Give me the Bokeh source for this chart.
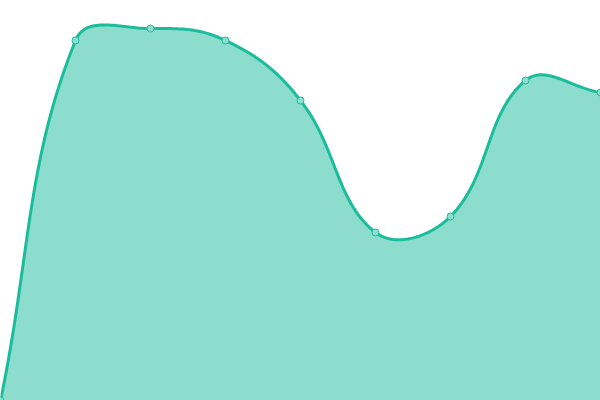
import numpy as np
from bokeh.plotting import figure
from bokeh.embed import file_html
from bokeh.resources import INLINE

# data
labels = ["P0", "P1", "P2", "P3", "P4", "P5", "P6", "P7", "P8"]
values = [0, 90, 93, 90, 75, 42, 46, 80, 77]

W, H = 600, 400
Y_MAX = 100
TENSION = 0.4

xs = np.arange(len(values), dtype=float)
ys = np.array(values, dtype=float)

# pixel-space points for control point computation (Chart.js style spline)
sx = W / (len(values) - 1)
sy = H / Y_MAX
P = np.column_stack([xs * sx, ys * sy])

n = len(P)
cp_prev = np.zeros_like(P)
cp_next = np.zeros_like(P)
for i in range(n):
    prev = P[i - 1] if i > 0 else P[i]
    cur = P[i]
    nxt = P[i + 1] if i < n - 1 else P[i]
    d01 = np.hypot(*(cur - prev))
    d12 = np.hypot(*(nxt - cur))
    tot = d01 + d12
    s01 = d01 / tot if tot else 0
    s12 = d12 / tot if tot else 0
    fa = TENSION * s01
    fb = TENSION * s12
    cp_prev[i] = cur - fa * (nxt - prev)
    cp_next[i] = cur + fb * (nxt - prev)
# cap to chart area
cp_prev[:, 1] = np.clip(cp_prev[:, 1], 0, H)
cp_next[:, 1] = np.clip(cp_next[:, 1], 0, H)
cp_prev[:, 0] = np.clip(cp_prev[:, 0], 0, W)
cp_next[:, 0] = np.clip(cp_next[:, 0], 0, W)

cx, cy = [], []
t = np.linspace(0, 1, 40)
for i in range(n - 1):
    p0, p1, p2, p3 = P[i], cp_next[i], cp_prev[i + 1], P[i + 1]
    seg = ((1 - t) ** 3)[:, None] * p0 + (3 * (1 - t) ** 2 * t)[:, None] * p1 \
        + (3 * (1 - t) * t ** 2)[:, None] * p2 + (t ** 3)[:, None] * p3
    if i > 0:
        seg = seg[1:]
    cx.extend(seg[:, 0] / sx)
    cy.extend(seg[:, 1] / sy)

p = figure(width=W, height=H, output_backend="svg", toolbar_location=None,
           x_range=(0, len(values) - 1), y_range=(0, Y_MAX),
           min_border=0, min_border_left=0, min_border_right=0,
           min_border_top=0, min_border_bottom=0)
p.axis.visible = False
p.grid.visible = False
p.outline_line_color = None
p.background_fill_color = "white"
p.border_fill_color = "white"

color = "#1abc9c"
px_ = [0] + cx + [len(values) - 1]
py_ = [0] + cy + [0]
p.patch(px_, py_, fill_color=color, fill_alpha=0.5, line_color=None)
p.line(cx, cy, line_color=color, line_width=3)
p.scatter(xs, ys, size=7, fill_color="#8de0d0", line_color=color, line_width=1)

open("out.html", "w").write(file_html(p, INLINE))
